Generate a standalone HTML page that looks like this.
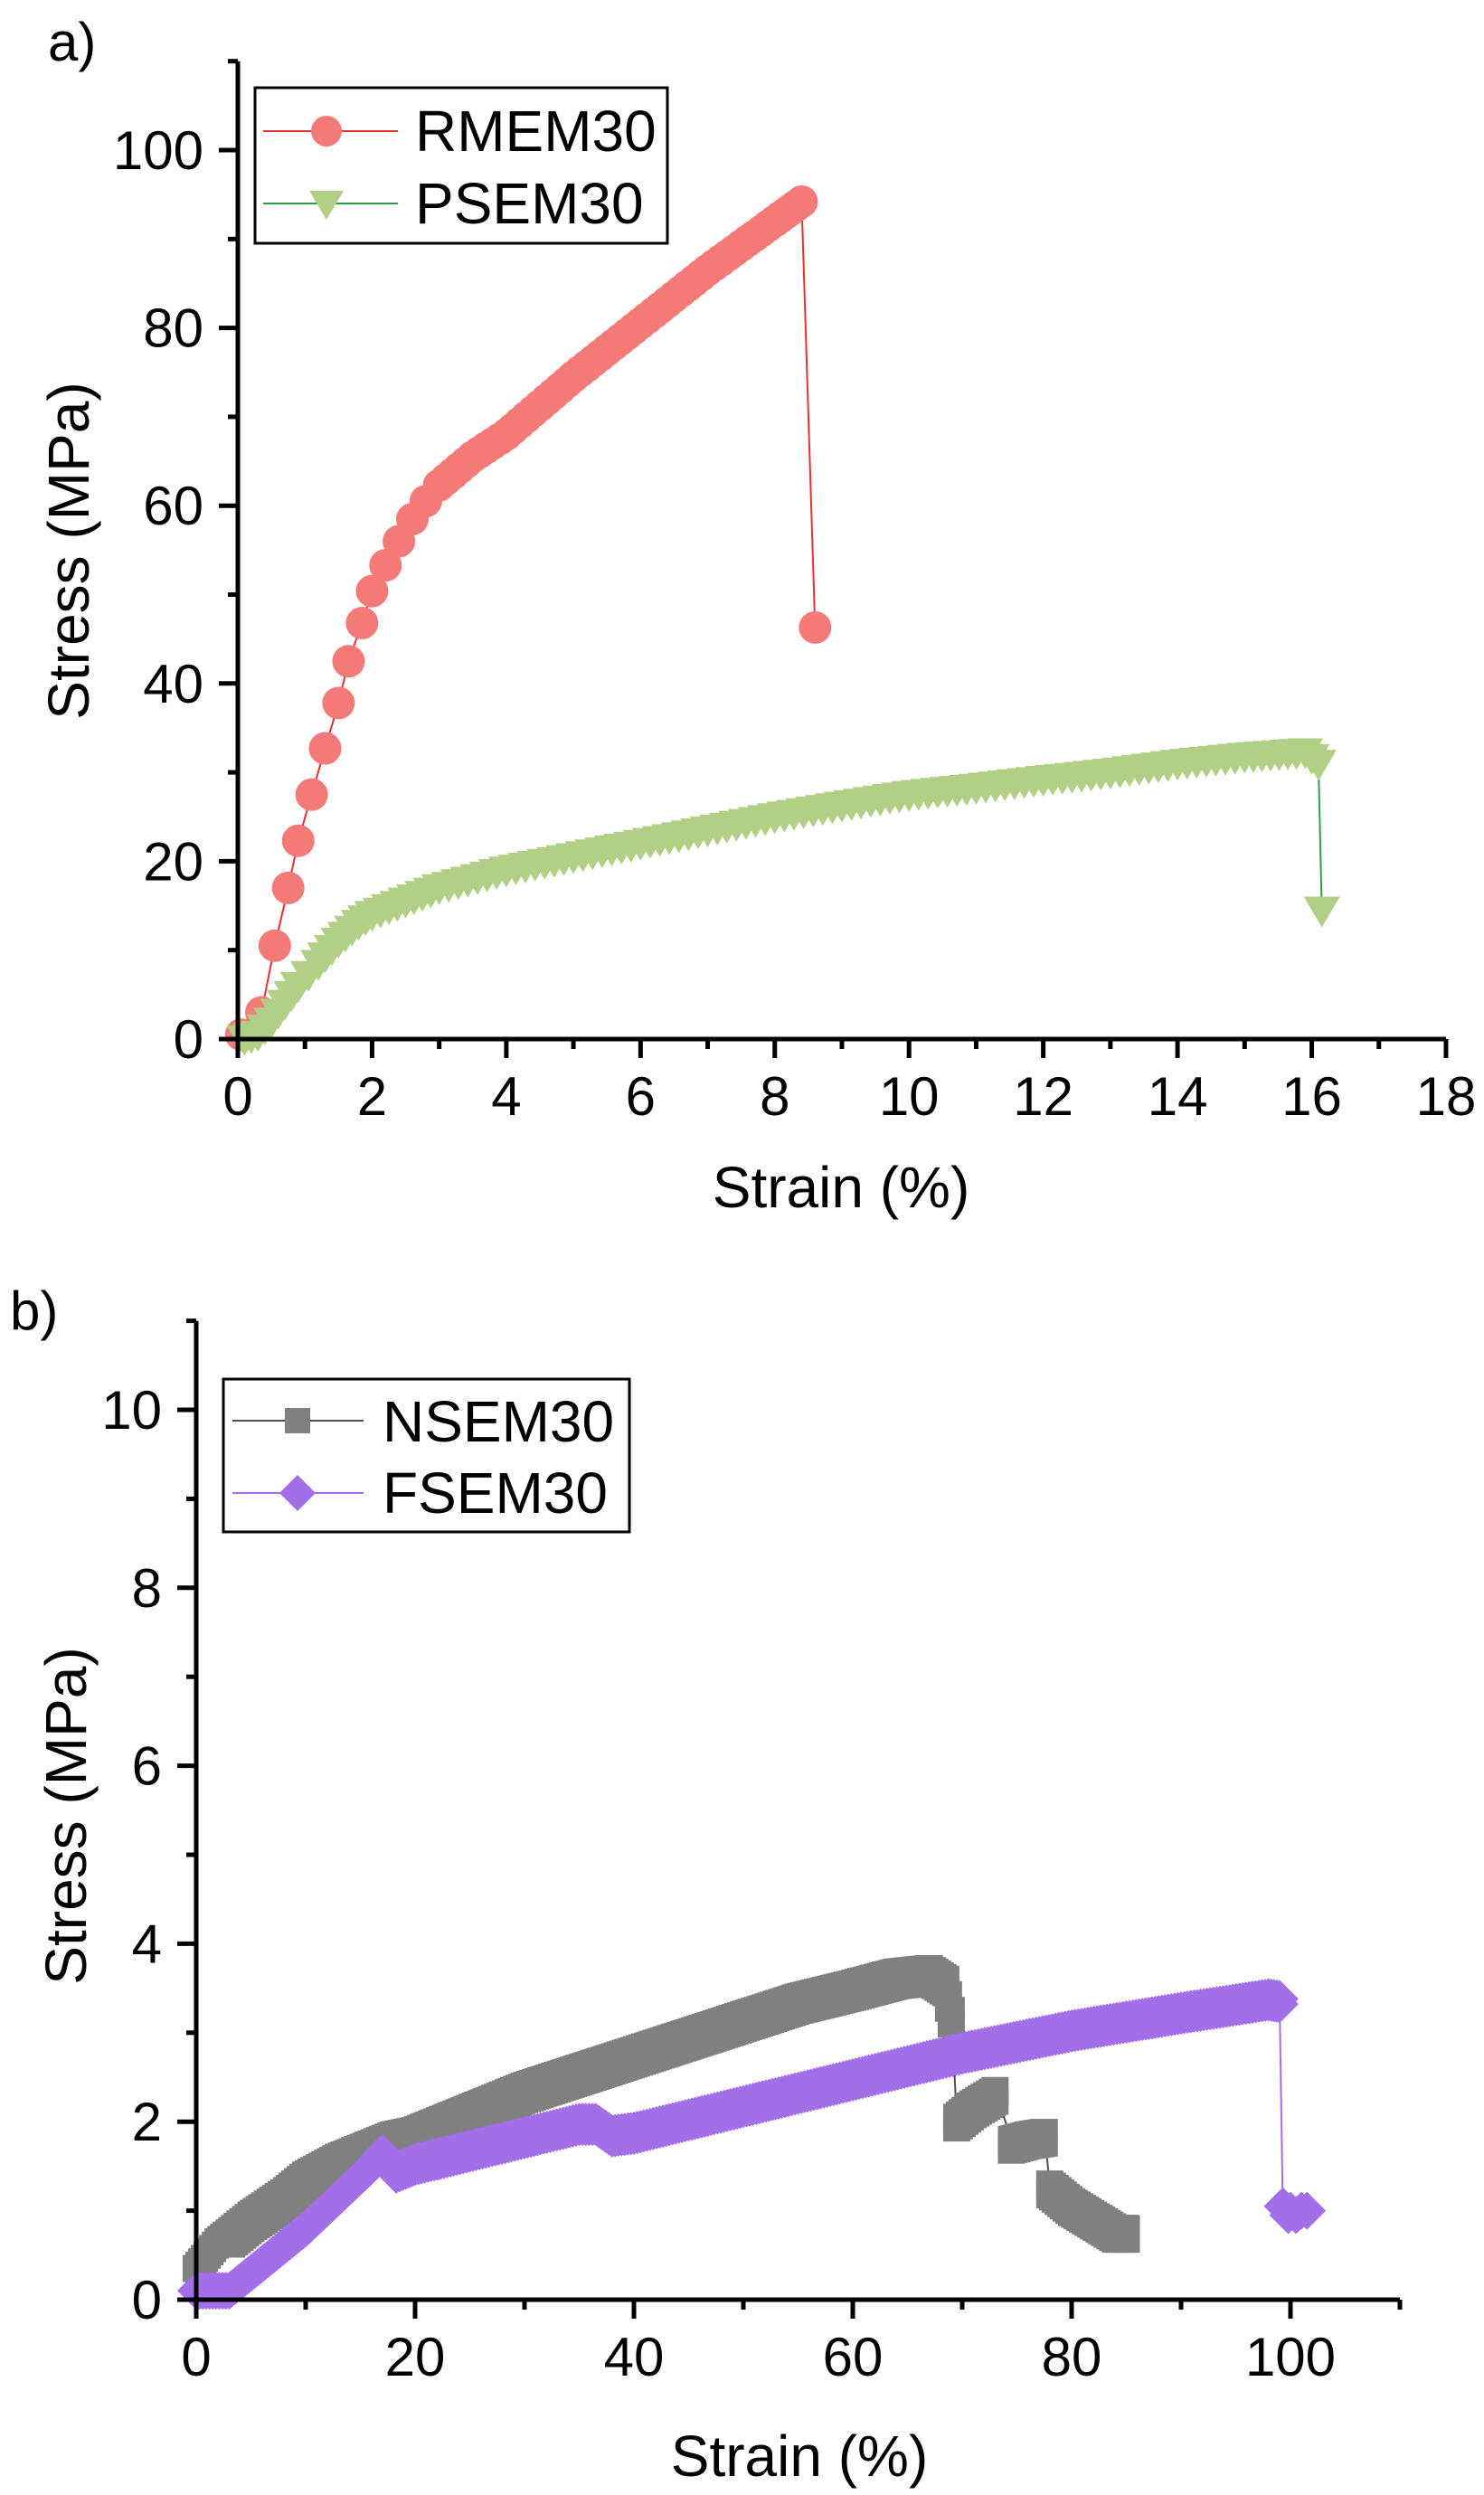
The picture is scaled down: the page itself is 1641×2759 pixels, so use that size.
<!DOCTYPE html>
<html><head><meta charset="utf-8"><style>
html,body{margin:0;padding:0;background:#fff;}
svg{display:block;}
text{font-family:"Liberation Sans",Arial,sans-serif;fill:#000;}
</style></head><body>
<svg id="s" width="1641" height="2759" viewBox="0 0 1641 2759" xmlns="http://www.w3.org/2000/svg">
<rect width="1641" height="2759" fill="#fff"/>
<g id="series"></g>
<g id="axes" stroke="#000" stroke-width="5" fill="none"></g>
<g id="labels" font-size="60"></g>
<text x="53" y="67" font-size="60">a)</text>
<text x="11" y="1470" font-size="60">b)</text>
<text x="930" y="1335" font-size="64" text-anchor="middle">Strain (%)</text>
<text x="884" y="2738" font-size="64" text-anchor="middle">Strain (%)</text>
<text transform="translate(98,609) rotate(-90)" font-size="64" text-anchor="middle">Stress (MPa)</text>
<text transform="translate(95,2008) rotate(-90)" font-size="64" text-anchor="middle">Stress (MPa)</text>
<rect x="282" y="97" width="456" height="172" fill="#fff" stroke="#000" stroke-width="3"/>
<line x1="291" y1="145" x2="440" y2="145" stroke="#E8312F" stroke-width="2"/>
<circle cx="361" cy="145" r="17" fill="#F47A78"/>
<text x="459" y="167" font-size="64">RMEM30</text>
<line x1="291" y1="225" x2="440" y2="225" stroke="#2E9E4A" stroke-width="2"/>
<polygon points="342,211 380,211 361,243" fill="#B1D085"/>
<text x="459" y="247" font-size="64">PSEM30</text>
<rect x="247" y="1525" width="449" height="169" fill="#fff" stroke="#000" stroke-width="3"/>
<line x1="257" y1="1571" x2="402" y2="1571" stroke="#505050" stroke-width="2"/>
<rect x="315" y="1557" width="28" height="28" fill="#808080"/>
<text x="423" y="1594" font-size="64">NSEM30</text>
<line x1="257" y1="1651" x2="402" y2="1651" stroke="#A36FE8" stroke-width="2"/>
<polygon points="329,1631 349,1651 329,1671 309,1651" fill="#A36FE8"/>
<text x="423" y="1673" font-size="64">FSEM30</text>
</svg>
<script>
var NS="http://www.w3.org/2000/svg";
function el(p,t,a){var e=document.createElementNS(NS,t);for(var k in a)e.setAttribute(k,a[k]);p.appendChild(e);return e;}
var axes=document.getElementById('axes'),labels=document.getElementById('labels'),ser=document.getElementById('series');
function AX(s){return 263+s*74.22;} function AY(v){return 1149-v*9.83;}
function BX(s){return 217+s*12.1;} function BY(v){return 2543-v*98.4;}
function drawAxes(X,Y,xmax,ymax,xmaj,xmin,ymaj,ymin){
  el(axes,'line',{x1:X(0),y1:Y(ymax),x2:X(0),y2:Y(0)+2});
  el(axes,'line',{x1:X(0)-2,y1:Y(0),x2:X(xmax),y2:Y(0)});
  for(var s=0;s<=xmax+1e-9;s+=xmin){var maj=Math.abs(s/xmaj-Math.round(s/xmaj))<1e-6;
    el(axes,'line',{x1:X(s),y1:Y(0),x2:X(s),y2:Y(0)+(maj?21:11)});
    if(maj){var t=el(labels,'text',{x:X(s),y:Y(0)+84,'text-anchor':'middle'});t.textContent=String(Math.round(s));}}
  for(var v=0;v<=ymax+1e-9;v+=ymin){var maj=Math.abs(v/ymaj-Math.round(v/ymaj))<1e-6;
    el(axes,'line',{x1:X(0),y1:Y(v),x2:X(0)-(maj?21:11),y2:Y(v)});
    if(maj){var t=el(labels,'text',{x:X(0)-38,y:Y(v)+21,'text-anchor':'end'});t.textContent=String(Math.round(v));}}
}
drawAxes(AX,AY,18,110,2,1,20,10);
drawAxes(BX,BY,110,11,20,10,2,1);
function interp(pts,step){var out=[];for(var i=0;i<pts.length-1;i++){var a=pts[i],b=pts[i+1];var n=Math.max(1,Math.ceil(Math.abs(b[0]-a[0])/step));for(var j=0;j<n;j++){var t=j/n;out.push([a[0]+(b[0]-a[0])*t,a[1]+(b[1]-a[1])*t]);}}out.push(pts[pts.length-1]);return out;}
function poly(pts,X,Y,col,w){el(ser,'polyline',{points:pts.map(function(p){return X(p[0])+','+Y(p[1]);}).join(' '),fill:'none',stroke:col,'stroke-width':w});}
var red=[[0.05,0.5],[0.35,3],[0.55,10.5],[0.75,17],[0.9,22.3],[1.1,27.5],[1.3,32.7],[1.5,37.8],[1.65,42.5],[1.85,46.8],[2.0,50.4],[2.2,53.3],[2.4,56],[2.6,58.5],[2.8,60.5],[3.0,62.3],[3.5,65.5],[4,68],[5,74.5],[6,80.5],[7,86.5],[8,92],[8.4,94.2]];
poly(red.concat([[8.6,46.3]]),AX,AY,'#E8312F',2);
var rm=red.slice(0,16).concat(interp(red.slice(15),0.1)).concat([[8.6,46.3]]);
rm.forEach(function(p){el(ser,'circle',{cx:AX(p[0]),cy:AY(p[1]),r:18,fill:'#F47A78'});});
var gr=[[0.1,0],[0.3,0.5],[0.5,2],[0.7,4],[0.9,6],[1.2,8.5],[1.5,11],[1.8,13],[2,14],[2.5,15.5],[3,17],[4,19],[5,20.5],[6,22],[7,23.5],[8,25],[9,26.3],[10,27.5],[11,28.3],[12,29.2],[13,30],[14,31],[15,31.8],[15.9,32.3],[16.1,31]];
poly(gr.concat([[16.15,14.5]]),AX,AY,'#2E9E4A',2);
interp(gr,0.15).concat([[16.15,14.5]]).forEach(function(p){var x=AX(p[0]),y=AY(p[1]);el(ser,'polygon',{points:(x-20)+','+(y-15)+' '+(x+20)+','+(y-15)+' '+x+','+(y+19),fill:'#B1D085'});});
var g1=[[0,0.35],[2,0.65],[5,0.95],[8,1.2],[10,1.4],[13,1.6],[16,1.75],[18,1.85],[20,1.9],[25,2.15],[30,2.4],[35,2.6],[40,2.8],[45,3.0],[50,3.2],[55,3.4],[60,3.55],[64,3.68],[67,3.72],[68.5,3.6],[69,3.25]];
var gdip=[[17,1.6],[19,1.5],[21,1.5]];
var g2=[[69.5,2.05],[71,2.2],[73,2.35]];
var g3=[[74.5,1.8],[76,1.85],[77.5,1.88]];
var g4=[[78,1.3],[80,1.1],[82,0.95],[84,0.8],[85,0.8]];
poly(g1.concat(g2,g3,g4),BX,BY,'#505050',2);
[g1,gdip,g2,g3,g4].forEach(function(seg,k){interp(seg,0.25).forEach(function(p){
  el(ser,'rect',{x:BX(p[0])-15,y:BY(p[1])-15,width:30,height:30,fill:'#808080'});
  if(k==0&&p[0]>3) el(ser,'rect',{x:BX(p[0])-15,y:BY(p[1]-0.15)-15,width:30,height:30,fill:'#808080'});
  if(k>=2) el(ser,'rect',{x:BX(p[0])-15,y:BY(p[1]-0.12)-15,width:30,height:30,fill:'#808080'});
});});
var pu=[[0,0.1],[3,0.1],[10,0.8],[16,1.5],[17,1.65],[18,1.45],[20,1.55],[30,1.85],[35,2.0],[36.5,2.0],[38,1.87],[40,1.9],[50,2.2],[60,2.5],[70,2.8],[80,3.05],[90,3.25],[98,3.4],[99,3.38]];
var pend=[[99.3,1.05],[99.8,0.95],[100,1.0],[100.5,0.95],[101,1.0],[101.5,1.0]];
poly(pu.concat(pend),BX,BY,'#A36FE8',2);
function dia(x,y){el(ser,'polygon',{points:x+','+(y-21)+' '+(x+21)+','+y+' '+x+','+(y+21)+' '+(x-21)+','+y,fill:'#A36FE8'});}
interp(pu,0.3).forEach(function(p){dia(BX(p[0]),BY(p[1]));if(p[0]>18)dia(BX(p[0]),BY(p[1]-0.06));});
pend.forEach(function(p){dia(BX(p[0]),BY(p[1]));});
</script>
</body></html>
